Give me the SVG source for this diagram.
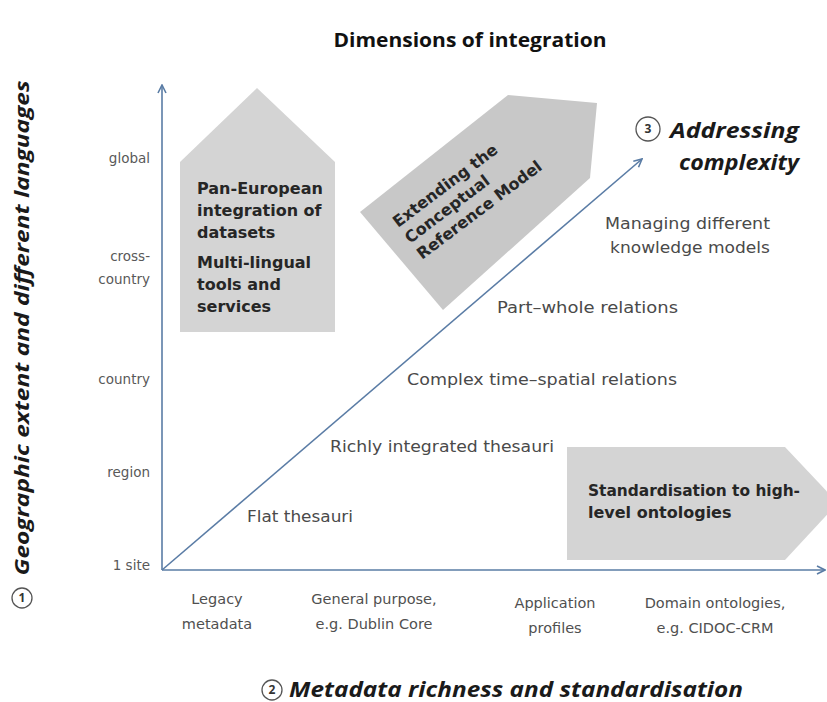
<svg xmlns="http://www.w3.org/2000/svg" width="827" height="702" viewBox="0 0 827 702">
<defs>
<marker id="arr" viewBox="0 0 10 10" refX="9" refY="5" markerWidth="10" markerHeight="10" markerUnits="userSpaceOnUse" orient="auto">
<path d="M1,1 L9,5 L1,9" fill="none" stroke="#5a7ca5" stroke-width="1.6"/>
</marker>
</defs>
<style>
.ax{font-family:"DejaVu Sans",sans-serif;font-size:13.5px;fill:#595959}
.bt{font-family:"DejaVu Sans",sans-serif;font-size:14.5px;fill:#505050;text-anchor:middle}
.lb{font-family:"DejaVu Sans",sans-serif;font-size:15px;fill:#4a4a4a}
.bx{font-family:"DejaVu Sans",sans-serif;font-size:16px;font-weight:bold;fill:#262626}
.big{font-family:"Open Sans",sans-serif;font-weight:bold;font-style:italic;fill:#1a1a1a}
.circ{fill:#fff;stroke:#555;stroke-width:1.3}
.cn{font-family:"Open Sans",sans-serif;font-size:12px;font-weight:bold;fill:#333;text-anchor:middle}
.line{stroke:#5a7ca5;stroke-width:1.6;fill:none}
</style>
<rect width="827" height="702" fill="#fff"/>

<text x="470" y="47" text-anchor="middle" font-family="Open Sans, sans-serif" font-weight="bold" font-size="20" fill="#111" textLength="273" lengthAdjust="spacingAndGlyphs">Dimensions of integration</text>

<g id="house">
<polygon points="257,88 335,162 335,332 180,332 180,162" fill="#d4d4d4"/>
<text class="bx" x="197" y="194">Pan-European</text>
<text class="bx" x="197" y="216">integration of</text>
<text class="bx" x="197" y="238">datasets</text>
<text class="bx" x="197" y="268">Multi-lingual</text>
<text class="bx" x="197" y="290">tools and</text>
<text class="bx" x="197" y="312">services</text>
</g>

<g id="crm">
<polygon points="508,95 597,103 590,178 443,310 360,212" fill="#c8c8c8"/>
<g transform="translate(398,228) rotate(-37)">
<text class="bx" x="0" y="0" font-size="13.5">Extending the</text>
<text class="bx" x="0" y="20" font-size="13.5">Conceptual</text>
<text class="bx" x="0" y="40" font-size="13.5">Reference Model</text>
</g>
</g>

<g id="std">
<polygon points="567,447 785,447 838,503 785,560 567,560" fill="#d4d4d4"/>
<text class="bx" x="588" y="496" font-size="15" textLength="212" lengthAdjust="spacingAndGlyphs">Standardisation to high-</text>
<text class="bx" x="588" y="518" font-size="15">level ontologies</text>
</g>

<g id="connectors">
<line class="line" x1="162" y1="570" x2="162" y2="85" marker-end="url(#arr)"/>
<line class="line" x1="162" y1="570" x2="825" y2="570" marker-end="url(#arr)"/>
<line class="line" x1="162" y1="570" x2="642" y2="159" marker-end="url(#arr)"/>
</g>

<g id="yaxis-labels">
<text class="ax" x="150" y="163" text-anchor="end">global</text>
<text class="ax" x="150" y="261" text-anchor="end">cross-</text>
<text class="ax" x="150" y="284" text-anchor="end">country</text>
<text class="ax" x="150" y="384" text-anchor="end">country</text>
<text class="ax" x="150" y="477" text-anchor="end">region</text>
<text class="ax" x="150" y="570" text-anchor="end">1 site</text>
</g>

<g id="yaxis-title">
<text class="big" font-size="19" transform="translate(29,328) rotate(-90)" text-anchor="middle" textLength="495" lengthAdjust="spacingAndGlyphs">Geographic extent and different languages</text>
<circle class="circ" cx="22" cy="598" r="10"/>
<text class="cn" x="22" y="602">1</text>
</g>

<g id="xaxis-labels">
<text class="bt" x="217" y="604">Legacy</text>
<text class="bt" x="217" y="629">metadata</text>
<text class="bt" x="374" y="604">General purpose,</text>
<text class="bt" x="374" y="629">e.g. Dublin Core</text>
<text class="bt" x="555" y="608">Application</text>
<text class="bt" x="555" y="633">profiles</text>
<text class="bt" x="715" y="608">Domain ontologies,</text>
<text class="bt" x="715" y="633">e.g. CIDOC-CRM</text>
</g>

<g id="xaxis-title">
<circle class="circ" cx="272" cy="690" r="10"/>
<text class="cn" x="272" y="694">2</text>
<text class="big" x="289" y="697" font-size="21" textLength="454" lengthAdjust="spacingAndGlyphs">Metadata richness and standardisation</text>
</g>

<g id="diag-title">
<circle class="circ" cx="648" cy="129" r="12"/>
<text class="cn" x="648" y="133">3</text>
<text class="big" x="670" y="138" font-size="22" textLength="129" lengthAdjust="spacingAndGlyphs">Addressing</text>
<text class="big" x="679" y="170" font-size="22" textLength="120" lengthAdjust="spacingAndGlyphs">complexity</text>
</g>

<g id="levels">
<text class="lb" x="605" y="229" textLength="165" lengthAdjust="spacingAndGlyphs">Managing different</text>
<text class="lb" x="610" y="253" textLength="160" lengthAdjust="spacingAndGlyphs">knowledge models</text>
<text class="lb" x="497" y="313" textLength="181" lengthAdjust="spacingAndGlyphs">Part–whole relations</text>
<text class="lb" x="407" y="385" textLength="270" lengthAdjust="spacingAndGlyphs">Complex time–spatial relations</text>
<text class="lb" x="330" y="452" textLength="224" lengthAdjust="spacingAndGlyphs">Richly integrated thesauri</text>
<text class="lb" x="247" y="522" textLength="106" lengthAdjust="spacingAndGlyphs">Flat thesauri</text>
</g>
</svg>
